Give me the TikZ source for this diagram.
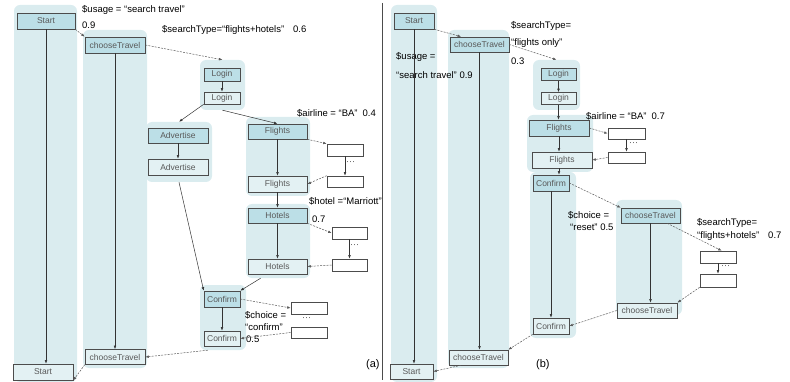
\documentclass[tikz,border=0pt]{standalone}
\usepackage{fontspec}
\setmainfont{Liberation Sans}
\usetikzlibrary{arrows.meta}
\definecolor{lanebg}{HTML}{DAECEF}
\definecolor{actfill}{HTML}{BCDFE7}
\definecolor{endfill}{HTML}{E3F1F3}

\begin{document}
\begin{tikzpicture}[x=1pt,y=-1pt,
  lane/.style={rounded corners=6pt,fill=lanebg,inner sep=0pt},
  act/.style={draw=black!70,fill=actfill,line width=0.6pt,inner sep=0pt,font=\fontsize{8.5}{9}\selectfont,text=black!65},
  actend/.style={act,fill=endfill},
  blank/.style={draw=black!70,fill=white,line width=0.6pt,inner sep=0pt},
  flow/.style={-{Latex[length=3.5pt,width=2.6pt]},draw=black!80,line width=0.5pt},
  jump/.style={flow,draw=black!65,dash pattern=on 2pt off 1.2pt},
  lbl/.style={anchor=west,inner sep=0pt,font=\fontsize{9.5}{11}\selectfont},
  dots/.style={anchor=west,inner sep=0pt,font=\fontsize{9}{9}\selectfont,text=black!70}]
\useasboundingbox (0,0) rectangle (790,382);

% (a) lanes
\node[lane,minimum width=63pt,minimum height=377pt](laneA1) at (45.5,193.5) {};
\node[lane,minimum width=64pt,minimum height=338pt](laneA2) at (115,199) {};
\node[lane,minimum width=45pt,minimum height=50pt](laneLogin) at (222.5,85) {};
\node[lane,minimum width=66pt,minimum height=60pt](laneAdv) at (179,152) {};
\node[lane,minimum width=64pt,minimum height=79pt](laneFl) at (278,156.5) {};
\node[lane,minimum width=64pt,minimum height=74pt](laneHo) at (278,241) {};
\node[lane,minimum width=46pt,minimum height=65pt](laneConf) at (223,317.5) {};

% (a) steps
\node[act,minimum width=58pt,minimum height=16pt](startA) at (46,21) {Start};
\node[actend,minimum width=60pt,minimum height=16pt](startAend) at (43,372) {Start};
\node[act,minimum width=60pt,minimum height=16pt](travelA) at (115,45) {chooseTravel};
\node[actend,minimum width=60pt,minimum height=15pt](travelAend) at (115,357) {chooseTravel};
\node[act,minimum width=36pt,minimum height=13pt](loginA) at (222,74.5) {Login};
\node[actend,minimum width=36pt,minimum height=12pt](loginAend) at (222,98) {Login};
\node[act,minimum width=60pt,minimum height=15pt](advA) at (178,135.5) {Advertise};
\node[actend,minimum width=60pt,minimum height=16pt](advAend) at (178,167) {Advertise};
\node[act,minimum width=59pt,minimum height=15pt](flA) at (277.5,131.5) {Flights};
\node[actend,minimum width=59pt,minimum height=16pt](flAend) at (277.5,184) {Flights};
\node[act,minimum width=59pt,minimum height=15pt](hoA) at (277.5,215.5) {Hotels};
\node[actend,minimum width=59pt,minimum height=15pt](hoAend) at (277.5,266.5) {Hotels};
\node[act,minimum width=36pt,minimum height=16pt](confA) at (222,299) {Confirm};
\node[actend,minimum width=36pt,minimum height=15pt](confAend) at (222,338.5) {Confirm};
\node[blank,minimum width=36pt,minimum height=12pt](fb1) at (345,150) {};
\node[blank,minimum width=36pt,minimum height=11pt](fb2) at (345,181.5) {};
\node[blank,minimum width=35pt,minimum height=12pt](hb1) at (349.5,233) {};
\node[blank,minimum width=35pt,minimum height=12pt](hb2) at (349.5,265) {};
\node[blank,minimum width=36pt,minimum height=12pt](cb1) at (309,308) {};
\node[blank,minimum width=36pt,minimum height=11pt](cb2) at (309,332.5) {};

% (a) labels
\node[lbl](usageA) at (82,10) {\$usage = “search travel”};
\node[lbl](usageApr) at (82,25) {0.9};
\node[lbl](typeA) at (162,30) {\$searchType=“flights+hotels”\hspace{9pt}0.6};
\node[lbl](airA) at (297,113) {\$airline = “BA”\hspace{5pt}0.4};
\node[lbl](hotelA) at (309,201) {\$hotel =“Marriott”};
\node[lbl](hotelApr) at (312,219) {0.7};
\node[lbl](choiceA) at (245,315) {\$choice =};
\node[lbl](choiceAval) at (245,327) {“confirm”};
\node[lbl](choiceApr) at (246,339) {0.5};
\node[dots](fdotsA) at (346,163) {···};
\node[dots](hdotsA) at (350,246) {···};
\node[dots](cdotsA) at (302,319) {···};
\node[lbl,font=\fontsize{11}{12}\selectfont](tagA) at (366,365) {(a)};

% (a) connectors
\draw[flow](startA.south)--(startA.south |- startAend.north);
\draw[flow](travelA.south)--(travelAend.north);
\draw[flow](loginA)--(loginAend);
\draw[flow](advA)--(advAend);
\draw[flow](flA)--(flAend);
\draw[flow](flAend)--(hoA);
\draw[flow](hoA)--(hoAend);
\draw[flow](confA)--(confAend);
\draw[flow](loginAend.south west)--(laneAdv.north);
\draw[flow](laneLogin.south)--(flA.north);
\draw[flow](laneAdv.south)--(confA.north west);
\draw[flow](laneHo.-115)--(confA.north east);
\draw[flow](fb1)--(fb2);
\draw[flow](hb1)--(hb2);
\draw[jump](startA.south east)--(travelA.north west);
\draw[jump](travelA.east)--(laneLogin.north);
\draw[jump](flA.south east)--(fb1.north west);
\draw[jump](fb2.north west)--(flAend.east);
\draw[jump](hoA.south east)--(hb1.west);
\draw[jump](hb2.west)--(hoAend.east);
\draw[jump](confA.east)--(cb1.west);
\draw[jump](cb2.west)--(confAend.east);
\draw[jump](laneConf.-115)--(travelAend.east);
\draw[jump](travelAend.south west)--(startAend.south east);

\draw[black!70,line width=0.6pt](382,3)--(382,380);

% (b) lanes
\node[lane,minimum width=46pt,minimum height=377pt](laneB1) at (414,193.5) {};
\node[lane,minimum width=61pt,minimum height=338pt](laneB2) at (478.5,199) {};
\node[lane,minimum width=47pt,minimum height=50pt](laneLoginB) at (556.5,85) {};
\node[lane,minimum width=66pt,minimum height=57pt](laneFlB) at (560,143.5) {};
\node[lane,minimum width=46pt,minimum height=166pt](laneConfB) at (553,255) {};
\node[lane,minimum width=66pt,minimum height=115pt](laneB3) at (649,257.5) {};

% (b) steps
\node[act,minimum width=40pt,minimum height=16pt](startB) at (414,21) {Start};
\node[actend,minimum width=43pt,minimum height=15pt](startBend) at (411.5,371.5) {Start};
\node[act,minimum width=59pt,minimum height=15pt](travelB) at (479.5,44.5) {chooseTravel};
\node[actend,minimum width=59pt,minimum height=15pt](travelBend) at (478.5,357.5) {chooseTravel};
\node[act,minimum width=35pt,minimum height=12pt](loginB) at (558.5,74.5) {Login};
\node[actend,minimum width=35pt,minimum height=12pt](loginBend) at (558.5,98.5) {Login};
\node[act,minimum width=60pt,minimum height=16pt](flB) at (559,128) {Flights};
\node[actend,minimum width=60pt,minimum height=16pt](flBend) at (562,160) {Flights};
\node[act,minimum width=36pt,minimum height=16pt](confB) at (551,183) {Confirm};
\node[actend,minimum width=36pt,minimum height=16pt](confBend) at (551,326) {Confirm};
\node[act,minimum width=59pt,minimum height=15pt](travelB3) at (650.5,215.5) {chooseTravel};
\node[actend,minimum width=60pt,minimum height=15pt](travelB3end) at (647,310.5) {chooseTravel};
\node[blank,minimum width=37pt,minimum height=11pt](fbB1) at (626.5,133.5) {};
\node[blank,minimum width=37pt,minimum height=11pt](fbB2) at (626.5,157.5) {};
\node[blank,minimum width=36pt,minimum height=12pt](sb1) at (718,257) {};
\node[blank,minimum width=36pt,minimum height=13pt](sb2) at (718,280.5) {};

% (b) labels
\node[lbl](usageB) at (396,57) {\$usage =};
\node[lbl](usageBval) at (396,75) {“search travel” 0.9};
\node[lbl](typeB) at (511,26) {\$searchType=};
\node[lbl](typeBval) at (511,43) {“flights only”};
\node[lbl](typeBpr) at (511,61) {0.3};
\node[lbl](airB) at (586,116) {\$airline = “BA”\hspace{5pt}0.7};
\node[lbl](choiceB) at (568,215) {\$choice =};
\node[lbl](choiceBval) at (570,227) {“reset” 0.5};
\node[lbl](typeB3) at (697,223) {\$searchType=};
\node[lbl](typeB3val) at (697,236) {“flights+hotels”\hspace{9pt}0.7};
\node[dots](fdotsB) at (629,144) {···};
\node[dots](sdotsB) at (721,267) {···};
\node[lbl,font=\fontsize{11}{12}\selectfont](tagB) at (536,365) {(b)};

% (b) connectors
\draw[flow](startB.south)--(startB.south |- startBend.north);
\draw[flow](travelB.south)--(travelB.south |- travelBend.north);
\draw[flow](loginB)--(loginBend);
\draw[flow](loginBend.south)--(loginBend.south |- flB.north);
\draw[flow](flB.south)--(flB.south |- flBend.north);
\draw[flow](flB.south |- flBend.south)--(flB.south |- confB.north);
\draw[flow](confB.south)--(confBend.north);
\draw[flow](travelB3.south)--(travelB3.south |- travelB3end.north);
\draw[flow](fbB1)--(fbB2);
\draw[flow](sb1)--(sb2);
\draw[jump](startB.south east)--(travelB.157);
\draw[jump](travelB.east)--(laneLoginB.north);
\draw[jump](flB.east)--(fbB1.west);
\draw[jump](fbB2.west)--(flBend.east);
\draw[jump](confB.east)--(travelB3.north west);
\draw[jump](travelB3.-25)--(sb1.60);
\draw[jump](sb2.south west)--(travelB3end.north east);
\draw[jump](travelB3end.west)--(confBend.east);
\draw[jump](confBend.south west)--(travelBend.north east);
\draw[jump](travelBend.-156)--(startBend.east);
\end{tikzpicture}
\end{document}
